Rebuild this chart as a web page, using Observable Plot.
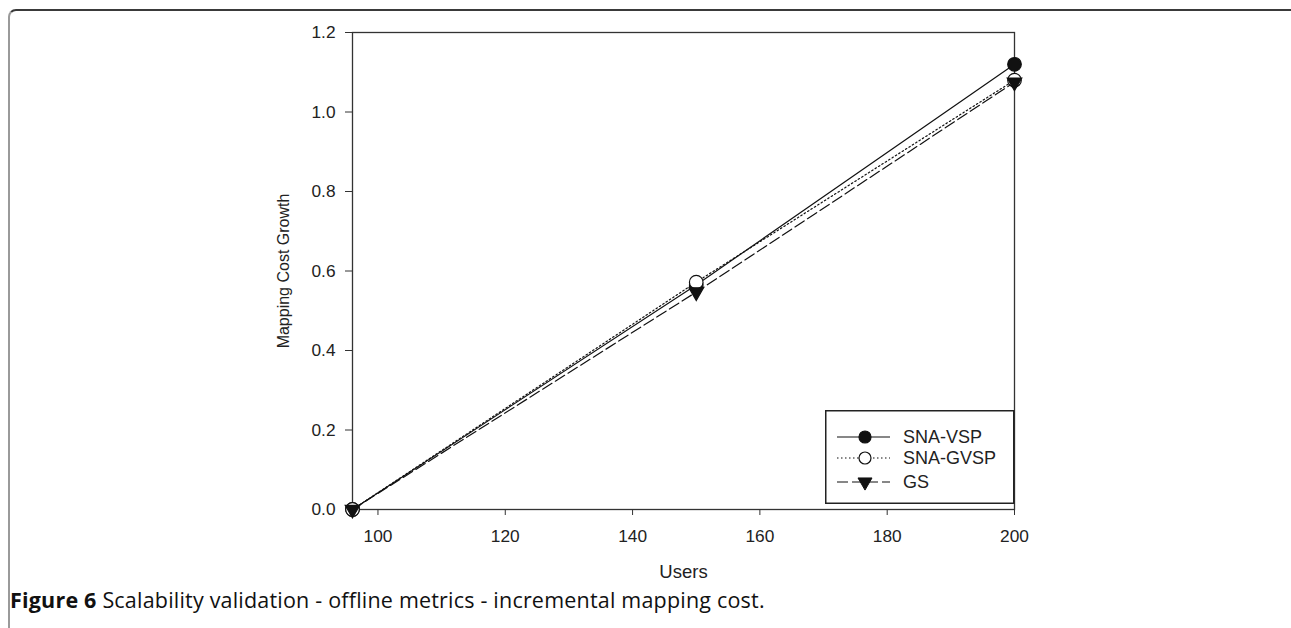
<!DOCTYPE html>
<html>
<head>
<meta charset="utf-8">
<script src="https://cdn.jsdelivr.net/npm/d3@7"></script>
<script src="https://cdn.jsdelivr.net/npm/@observablehq/plot@0.6"></script>
<style>
  html, body { margin: 0; padding: 0; background: #fff; }
  #wrap { position: relative; width: 1291px; height: 628px; overflow: hidden; }
  #border { position: absolute; left: 8px; top: 9px; width: 1300px; height: 640px;
            border-top: 2px solid #3a3a3a; border-left: 2px solid #9a9a9a;
            border-top-left-radius: 8px; box-sizing: border-box; }
  #chart { position: absolute; left: 0; top: 0; }
  #chart svg [aria-label$="tick label"] { font-size: 17.3px; }
  #legend { position: absolute; left: 825px; top: 410px; }
  #caption { position: absolute; left: 10px; top: 585px; font-family: "Open Sans", sans-serif;
             font-size: 21.5px; letter-spacing: 0.2px; color: #111; white-space: nowrap; }
  #caption b { font-weight: 700; }
</style>
</head>
<body>
<div id="wrap">
  <div id="border"></div>
  <div id="chart"></div>
  <div id="legend"></div>
  <div id="caption"><b>Figure 6</b> Scalability validation - offline metrics - incremental mapping cost.</div>
</div>
<script>
// ---- data ----
const users = [96, 150, 200];
const snaVsp = [0, 0.565, 1.12];
const snaGvsp = [0, 0.572, 1.08];
const gs = [0, 0.547, 1.075];
const seriesNames = ["SNA-VSP", "SNA-GVSP", "GS"];
const xTicks = [100, 120, 140, 160, 180, 200];
const yTicks = [0, 0.2, 0.4, 0.6, 0.8, 1.0, 1.2];

const seriesValues = [snaVsp, snaGvsp, gs];
const rows = seriesNames.flatMap((s, i) => users.map((u, j) => ({series: s, users: u, value: seriesValues[i][j]})));
const of = s => rows.filter(d => d.series === s);

const ink = "#111";
const styles = {
  "SNA-VSP": {dash: null, symbol: "circle", fill: ink, r: 6.8, rotate: 0},
  "SNA-GVSP": {dash: "1.5,2.5", symbol: "circle", fill: "white", r: 6.8, rotate: 0},
  "GS": {dash: "11,4", symbol: "triangle", fill: ink, r: 5.4, rotate: 180}
};

const chart = Plot.plot({
  width: 1291,
  height: 590,
  marginLeft: 352,
  marginRight: 277,
  marginTop: 32,
  marginBottom: 81,
  style: {fontFamily: "'Liberation Sans', Arial, sans-serif", fontSize: "16px", color: "#222", background: "transparent"},
  x: {domain: [96, 200]},
  y: {domain: [0, 1.2]},
  marks: [
    Plot.frame({stroke: "#333", strokeWidth: 1.3}),
    Plot.axisX({ticks: xTicks, tickSize: 6, tickPadding: 14, label: null, stroke: "#333"}),
    Plot.axisY({ticks: yTicks, tickSize: 7, tickPadding: 10, label: null, tickFormat: d3.format(".1f"), stroke: "#333"}),
    Plot.text(["Users"], {frameAnchor: "bottom", dy: 68, fontSize: 18.5, fill: "#222", letterSpacing: 0.8, textAnchor: "middle"}),
    Plot.text(["Mapping Cost Growth"], {frameAnchor: "left", dx: -69, rotate: -90, fontSize: 16, fill: "#222", textAnchor: "middle", letterSpacing: -0.2}),
    ...seriesNames.map(s => Plot.line(of(s), {x: "users", y: "value", stroke: ink, strokeWidth: 1.2, strokeDasharray: styles[s].dash})),
    ...seriesNames.map(s => Plot.dot(of(s), {x: "users", y: "value", symbol: styles[s].symbol, r: styles[s].r, rotate: styles[s].rotate,
      fill: styles[s].fill, stroke: ink, strokeWidth: 1.2}))
  ]
});
document.getElementById("chart").append(chart);

// ---- legend (HTML overlay) ----
const rowY = [27, 48, 72];
const lg = d3.create("svg").attr("width", 190).attr("height", 95)
  .style("font-family", "'Liberation Sans', Arial, sans-serif").style("font-size", "18px");
lg.append("rect").attr("x", 0.75).attr("y", 0.75).attr("width", 188).attr("height", 92.5)
  .attr("fill", "white").attr("stroke", "#222").attr("stroke-width", 1.5);
seriesNames.forEach((s, i) => {
  const st = styles[s];
  const g = lg.append("g").attr("transform", `translate(0,${rowY[i]})`);
  g.append("line").attr("x1", 12).attr("x2", 65).attr("stroke", ink).attr("stroke-width", 1.2)
    .attr("stroke-dasharray", st.dash);
  if (st.symbol === "circle") {
    g.append("circle").attr("cx", 40).attr("r", 6).attr("fill", st.fill).attr("stroke", ink).attr("stroke-width", 1.2);
  } else {
    g.append("path").attr("transform", "translate(40,0) rotate(180)")
      .attr("d", d3.symbol(d3.symbolTriangle, 85)()).attr("fill", st.fill).attr("stroke", ink);
  }
  g.append("text").attr("x", 78).attr("dy", "0.35em").attr("fill", "#222").text(s);
});
document.getElementById("legend").append(lg.node());
</script>
</body>
</html>
